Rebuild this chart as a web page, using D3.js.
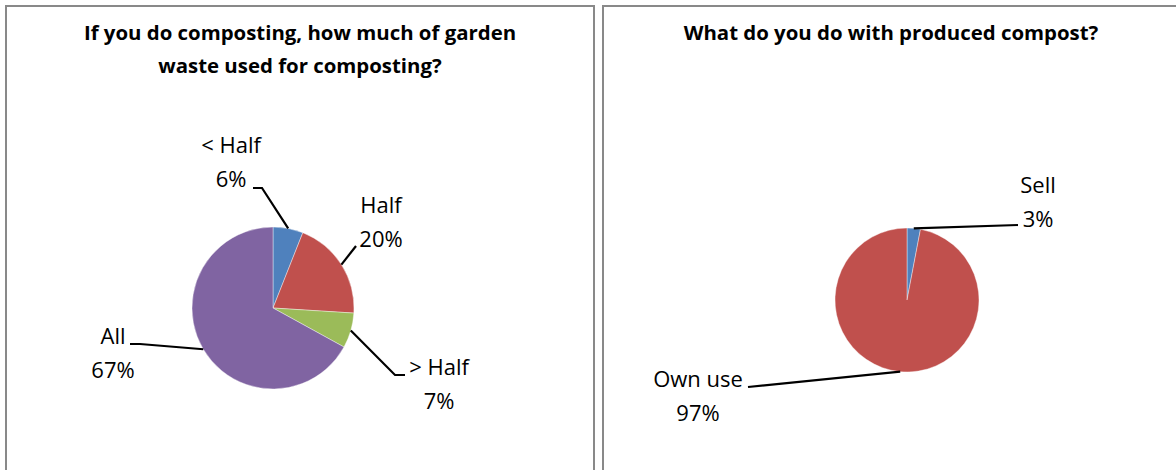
<!DOCTYPE html>
<html>
<head>
<meta charset="utf-8">
<script src="https://cdn.jsdelivr.net/npm/d3@7"></script>
<style>
  html, body { margin: 0; padding: 0; background: #fff; }
  svg { display: block; }
  text { font-family: "Open Sans", "Liberation Sans", sans-serif; fill: #000; }
</style>
</head>
<body>
<svg id="chart" width="1176" height="470"></svg>
<script>
// ---- data ----
const q1Title = ["If you do composting, how much of garden", "waste used for composting?"];
const q1Categories = ["< Half", "Half", "> Half", "All"];
const q1Values = [6, 20, 7, 67];
const q1Colors = ["#4F81BD", "#C0504D", "#9BBB59", "#8064A2"];

const q2Title = ["What do you do with produced compost?"];
const q2Categories = ["Sell", "Own use"];
const q2Values = [3, 97];
const q2Colors = ["#4F81BD", "#C0504D"];

// ---- layout (label placement relative to pie centre) ----
const q1Layout = {
  panel: {x: 6, y: 6, w: 588, h: 480},
  cx: 273, cy: 308, r: 81,
  labels: [
    {dx: -42, dy: -155, elbow: [[-11, -120], [-20, -120]]},
    {dx: 108, dy: -95,  elbow: [[83, -62]]},
    {dx: 166, dy: 67,   elbow: [[122, 67], [132, 67]]},
    {dx: -160, dy: 36,  elbow: [[-133, 36], [-143, 36]]}
  ]
};
const q2Layout = {
  panel: {x: 603, y: 6, w: 600, h: 480},
  cx: 907, cy: 300, r: 72,
  labels: [
    {dx: 131, dy: -107, elbow: [[111, -75]]},
    {dx: -209, dy: 87,  elbow: [[-159, 87]]}
  ]
};

const svg = d3.select("#chart");

function drawPanel(title, cats, vals, colors, L, titleCx) {
  const g = svg.append("g");
  g.append("rect")
    .attr("x", L.panel.x).attr("y", L.panel.y)
    .attr("width", L.panel.w).attr("height", L.panel.h)
    .attr("fill", "#fff").attr("stroke", "#898989").attr("stroke-width", 2);

  g.selectAll("text.title").data(title).join("text")
    .attr("class", "title")
    .attr("x", titleCx)
    .attr("y", (d, i) => 40 + i * 33)
    .attr("text-anchor", "middle")
    .attr("font-weight", "bold")
    .attr("font-size", 20.4)
    .text(d => d);

  const data = cats.map((c, i) => ({cat: c, value: vals[i], color: colors[i]}));
  const pie = d3.pie().value(d => d.value).sort(null);
  const arcs = pie(data);
  const arc = d3.arc().innerRadius(0).outerRadius(L.r);

  const pg = g.append("g").attr("transform", `translate(${L.cx},${L.cy})`);
  pg.selectAll("path").data(arcs).join("path")
    .attr("d", arc)
    .attr("fill", d => d.data.color)
    .attr("stroke", "#fff").attr("stroke-width", 0.4);

  // leader lines
  pg.selectAll("path.leader").data(arcs).join("path")
    .attr("class", "leader")
    .attr("fill", "none").attr("stroke", "#000").attr("stroke-width", 2.2)
    .attr("d", (d, i) => {
      const a = (d.startAngle + d.endAngle) / 2;
      const p0 = [L.r * Math.sin(a), -L.r * Math.cos(a)];
      return d3.line()([p0, ...L.labels[i].elbow]);
    });

  // labels
  const lg = pg.selectAll("g.lbl").data(arcs).join("g").attr("class", "lbl")
    .attr("transform", (d, i) => `translate(${L.labels[i].dx},${L.labels[i].dy})`);
  lg.append("text").attr("text-anchor", "middle").attr("font-size", 22)
    .text(d => d.data.cat);
  lg.append("text").attr("text-anchor", "middle").attr("font-size", 22)
    .attr("y", 34)
    .text(d => d3.format(".0%")(d.data.value / d3.sum(vals)));
}

drawPanel(q1Title, q1Categories, q1Values, q1Colors, q1Layout, 300);
drawPanel(q2Title, q2Categories, q2Values, q2Colors, q2Layout, 891);
</script>
</body>
</html>
